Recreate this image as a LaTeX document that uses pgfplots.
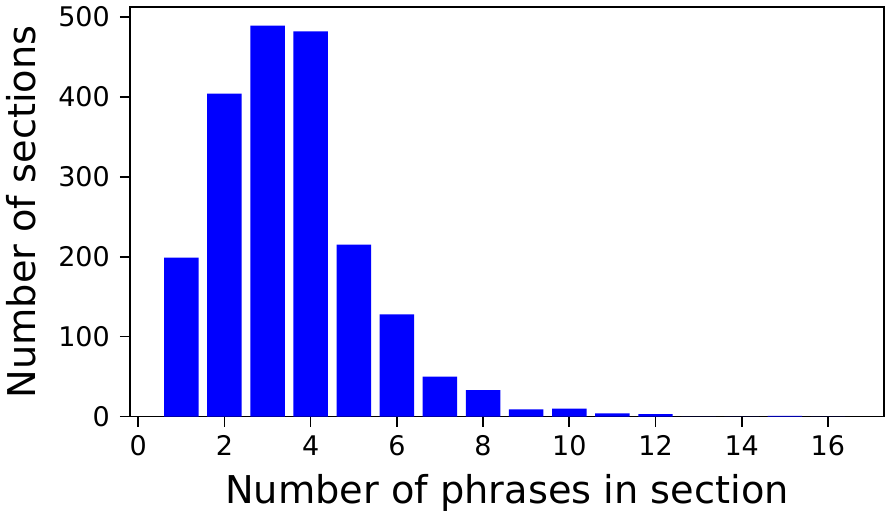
\documentclass[border=0pt]{standalone}
\usepackage{fontspec}
\setmainfont{DejaVu Sans}
\usepackage{pgfplots}
\pgfplotsset{compat=1.18}
\definecolor{barblue}{RGB}{0,0,255}

\begin{document}
\begin{tikzpicture}
  \begin{axis}[
    scale only axis,
    width=374pt, height=203pt,
    xmin=-0.19, xmax=17.3, ymin=0, ymax=512,
    xtick={0,2,...,16}, ytick={0,100,...,500},
    tick align=outside, tick pos=left,
    major tick length=5pt,
    every tick/.style={black, line width=0.8pt},
    axis line style={line width=0.9pt},
    /pgf/number format/assume math mode=true,
    tick label style={font=\fontsize{13.4}{16}\selectfont},
    xticklabel style={yshift=-1pt},
    yticklabel style={xshift=-1.5pt},
    label style={font=\fontsize{19}{22}\selectfont},
    xlabel={Number of phrases in section},
    ylabel={Number of sections},
    xlabel style={yshift=-2pt},
    ylabel style={yshift=4pt},
  ]
    \addplot[ybar, bar width=0.8, bar shift=0pt, fill=barblue, draw=none]
      coordinates {(1,199) (2,404) (3,489) (4,482) (5,215) (6,128) (7,50)
                   (8,33) (9,9) (10,10) (11,4) (12,3) (13,0) (14,0) (15,1) (16,0)};
  \end{axis}
  % a little room right of the frame, as in the reference
  \path ([xshift=3pt]current axis.south east);
\end{tikzpicture}
\end{document}
